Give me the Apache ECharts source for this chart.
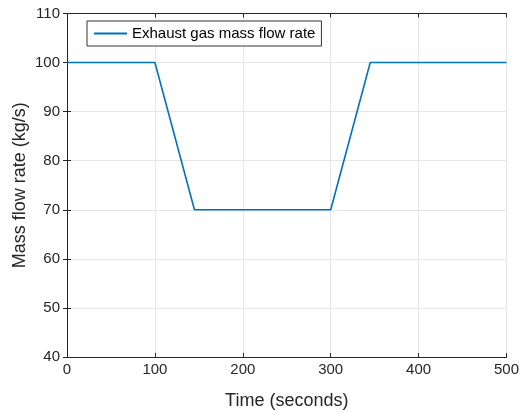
<!DOCTYPE html>
<html><head><meta charset="utf-8">
<script src="https://cdn.jsdelivr.net/npm/echarts@6/dist/echarts.min.js"></script>
<style>html,body{margin:0;padding:0;background:#fff}#c{width:521px;height:412px}</style>
</head><body><div id="c"></div>
<script>
const timeSec = [0, 100, 145, 300, 345, 500];
const massFlow = [100, 100, 70, 70, 100, 100];
const xTicks = [0, 100, 200, 300, 400, 500];
const yTicks = [40, 50, 60, 70, 80, 90, 100, 110];
const seriesName = 'Exhaust gas mass flow rate';

const chart = echarts.init(document.getElementById('c'), null, {renderer: 'canvas'});
const font = "'Liberation Sans', Arial, sans-serif";
const gridColor = '#e6e6e6';
const axisColor = '#262626';
chart.setOption({
  animation: false,
  backgroundColor: '#fff',
  grid: {left: 67, right: 14.5, top: 13.5, bottom: 55, containLabel: false, outerBoundsMode: 'none'},
  legend: {
    data: [seriesName], left: 87, top: 21, orient: 'vertical',
    backgroundColor: '#fff', borderColor: '#333', borderWidth: 1,
    padding: [5, 6, 5, 7], itemWidth: 33, itemHeight: 2, itemGap: 4,
    icon: 'rect',
    textStyle: {fontFamily: font, fontSize: 15, color: '#000'}
  },
  xAxis: [{
    type: 'value', min: xTicks[0], max: xTicks[xTicks.length-1], interval: 100,
    name: 'Time (seconds)', nameLocation: 'middle', nameGap: 35, nameMoveOverlap: false,
    nameTextStyle: {fontFamily: font, fontSize: 18, color: axisColor},
    axisLine: {lineStyle: {color: axisColor, width: 1}},
    axisTick: {inside: true, length: 4, lineStyle: {color: axisColor}},
    axisLabel: {fontFamily: font, fontSize: 15, color: axisColor, margin: 5},
    splitLine: {show: true, lineStyle: {color: gridColor, width: 1}}
  }, {
    type: 'value', position: 'top', min: 0, max: 500, interval: 100,
    axisLine: {show: true, lineStyle: {color: axisColor, width: 1}},
    axisTick: {inside: true, length: 4, lineStyle: {color: axisColor}},
    axisLabel: {show: false}, splitLine: {show: false}
  }],
  yAxis: [{
    type: 'value', min: yTicks[0], max: yTicks[yTicks.length-1], interval: 10,
    name: 'Mass flow rate (kg/s)', nameLocation: 'middle', nameGap: 38, nameMoveOverlap: false,
    nameTextStyle: {fontFamily: font, fontSize: 18, color: axisColor},
    axisLine: {show: true, lineStyle: {color: axisColor, width: 1}},
    axisTick: {show: true, inside: true, length: 4, lineStyle: {color: axisColor}},
    axisLabel: {fontFamily: font, fontSize: 15, color: axisColor, margin: 7},
    splitLine: {show: true, lineStyle: {color: gridColor, width: 1}}
  }, {
    type: 'value', position: 'right', min: 40, max: 110, interval: 10,
    axisLine: {show: true, lineStyle: {color: axisColor, width: 1}},
    axisTick: {show: true, inside: true, length: 4, lineStyle: {color: axisColor}},
    axisLabel: {show: false}, splitLine: {show: false}
  }],
  series: [{
    name: seriesName, type: 'line', xAxisIndex: 0, yAxisIndex: 0,
    data: timeSec.map((t, i) => [t, massFlow[i]]),
    showSymbol: false, symbol: 'none',
    lineStyle: {color: '#0072BD', width: 1.6},
    itemStyle: {color: '#0072BD'}
  }]
});
</script></body></html>
